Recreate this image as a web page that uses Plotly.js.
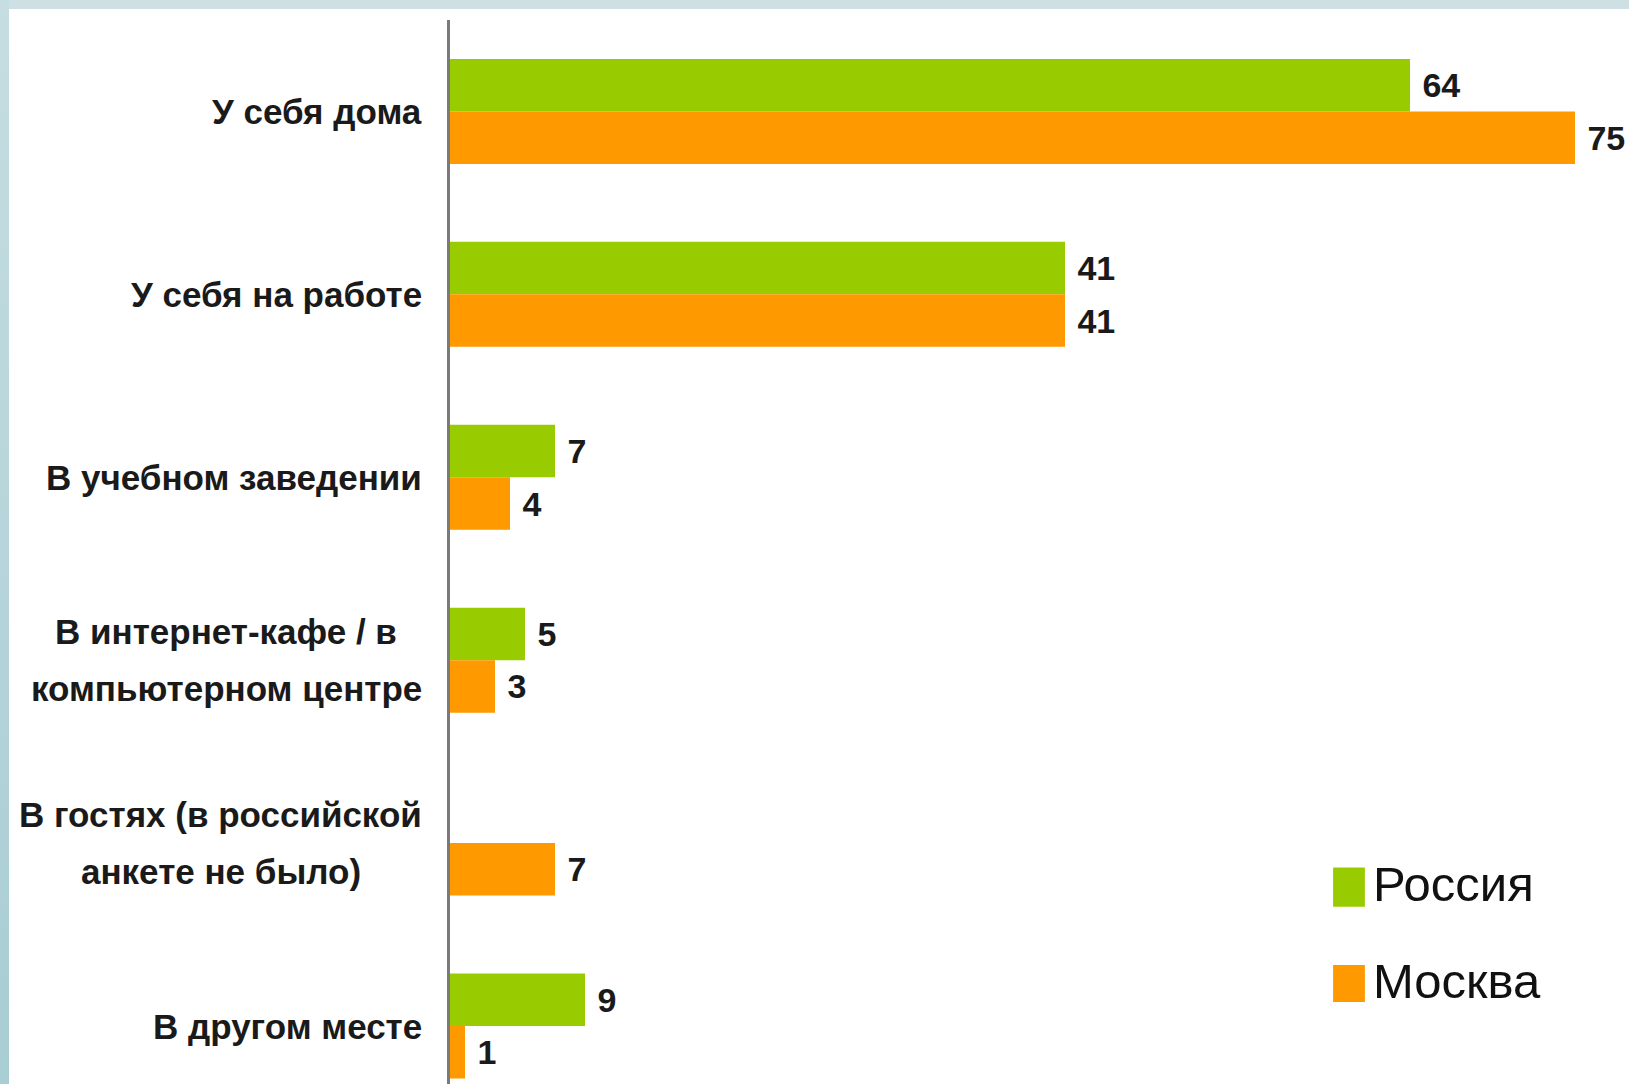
<!DOCTYPE html>
<html>
<head>
<meta charset="utf-8">
<script src="https://cdn.plot.ly/plotly-3.0.1.min.js"></script>
<style>
  html, body { margin: 0; padding: 0; background: #ffffff; overflow: hidden; }
  #chart { position: absolute; left: 0; top: 0; width: 1629px; height: 1084px; }
  #topband { position: absolute; left: 0; top: 0; width: 1629px; height: 9px; background: #cfe0e4; pointer-events: none; }
  #leftband { position: absolute; left: 0; top: 0; width: 9px; height: 1084px; background: linear-gradient(to bottom, #c6dde1, #a8cdd3); pointer-events: none; }
</style>
</head>
<body>
<div id="chart"></div>
<div id="topband"></div>
<div id="leftband"></div>
<script>
const categories = [
  "У себя дома",
  "У себя на работе",
  "В учебном заведении",
  "В интернет-кафе / в<br>компьютерном центре",
  "В гостях (в российской<br>анкете не было)",
  "В другом месте"
];
const seriesNames = ["Россия", "Москва"];
const russia = [64, 41, 7, 5, null, 9];
const moscow = [75, 41, 4, 3, 7, 1];
const colors = ["#99cc00", "#ff9900"];

const FONT = "'Liberation Sans', Arial, Helvetica, sans-serif";
const ids = categories.map((c, i) => "c" + i);

function barTrace(name, vals, color) {
  return {
    type: "bar",
    orientation: "h",
    name: name,
    y: ids,
    x: vals,
    marker: { color: color, line: { width: 0 } },
    text: vals.map(v => v === null ? "" : "\u00a0" + v),
    textposition: "outside",
    constraintext: "none",
    cliponaxis: false,
    textfont: { family: FONT, size: 34, color: "#1a1a1a", weight: "bold" },
    hoverinfo: "skip"
  };
}

const data = [
  barTrace(seriesNames[0], russia, colors[0]),
  barTrace(seriesNames[1], moscow, colors[1])
];

// category labels, centred line by line, block right-aligned to the axis
const annotations = [];
categories.forEach((c, i) => {
  const lines = c.split("<br>");
  const lineGap = 57;
  const widest = Math.max(...lines.map(l => l.length));
  lines.forEach((ln, k) => {
    annotations.push({
      xref: "paper", yref: "y",
      x: 0, y: ids[i],
      xanchor: lines.length > 1 ? "center" : "right",
      yanchor: "middle",
      xshift: lines.length > 1 ? -26 - 0 : -26,
      yshift: -(k - (lines.length - 1) / 2) * lineGap,
      align: "center",
      showarrow: false,
      text: "<b>" + ln + "</b>",
      font: { family: FONT, size: 35, color: "#1a1a1a" },
      _block: i
    });
  });
});

// custom legend
const legendY = [0.188, 0.097];
const legendSq = [[0.1665, 0.2035], [0.0771, 0.1118]];
const shapes = [];
seriesNames.forEach((n, i) => {
  shapes.push({
    type: "rect", xref: "paper", yref: "paper",
    x0: 0.749, x1: 0.776, y0: legendSq[i][0], y1: legendSq[i][1],
    fillcolor: colors[i], line: { width: 0 }
  });
  annotations.push({
    xref: "paper", yref: "paper",
    x: 0.781, y: legendY[i],
    xanchor: "left", yanchor: "middle",
    showarrow: false,
    text: n,
    font: { family: FONT, size: 49, color: "#111111" }
  });
});

const layout = {
  width: 1629,
  height: 1084,
  margin: { l: 450, r: 0, t: 20, b: 0 },
  paper_bgcolor: "#ffffff",
  plot_bgcolor: "#ffffff",
  showlegend: false,
  barmode: "group",
  bargap: 0.426,
  bargroupgap: 0,
  xaxis: {
    range: [0, 78.6],
    showgrid: false, zeroline: false, showline: false,
    showticklabels: false, ticks: ""
  },
  yaxis: {
    type: "category",
    categoryorder: "array",
    categoryarray: ids,
    range: [5.317, -0.5],
    showgrid: false, zeroline: false,
    showline: true, linecolor: "#7a7a7a", linewidth: 3,
    showticklabels: false, ticks: ""
  },
  annotations: annotations.map(a => { const b = Object.assign({}, a); delete b._block; return b; }),
  shapes: shapes,
  font: { family: FONT }
};

Plotly.newPlot("chart", data, layout, { staticPlot: true, displayModeBar: false }).then(gd => {
  // shift each multi-line block so that its widest line ends at the label edge
  const groups = {};
  annotations.forEach((a, idx) => {
    if (a._block === undefined) return;
    const n = categories[a._block].split("<br>").length;
    if (n < 2) return;
    (groups[a._block] = groups[a._block] || []).push(idx);
  });
  const upd = {};
  Object.keys(groups).forEach(b => {
    const idxs = groups[b];
    let maxW = 0;
    idxs.forEach(idx => {
      const el = gd.querySelectorAll(".annotation")[idx];
      const t = el.querySelector(".annotation-text");
      maxW = Math.max(maxW, t.getBBox().width);
    });
    idxs.forEach(idx => { upd["annotations[" + idx + "].xshift"] = -26 - maxW / 2 - 2; });
  });
  return Plotly.relayout(gd, upd);
});
</script>
</body>
</html>
